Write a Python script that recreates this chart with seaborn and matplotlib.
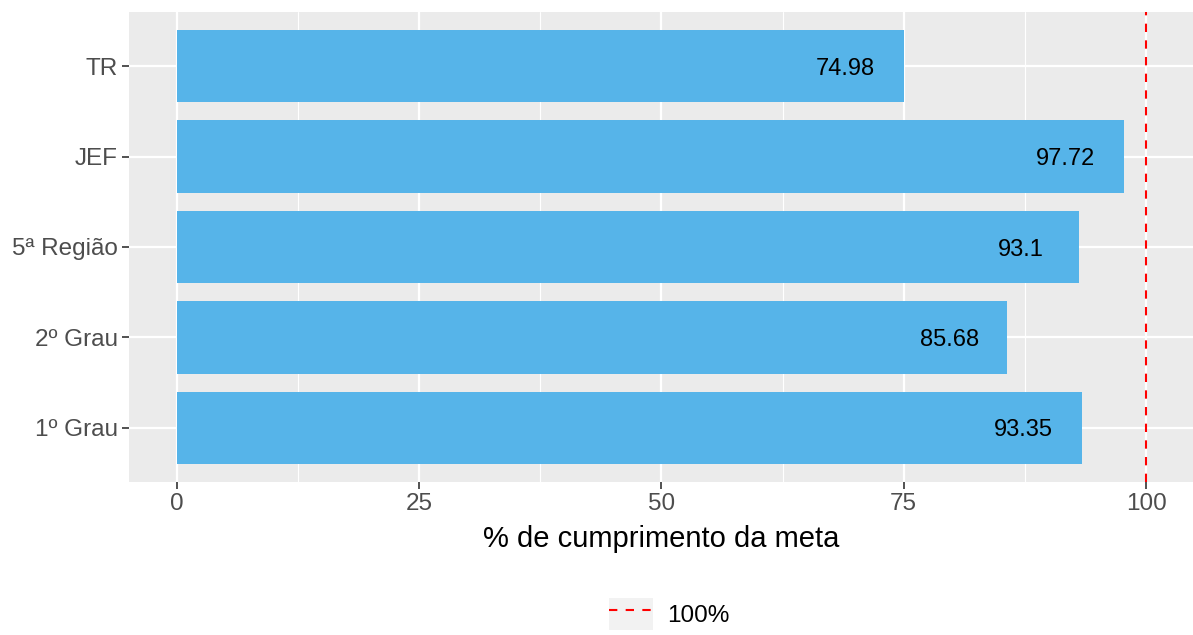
import numpy as np
import pandas as pd
import matplotlib
matplotlib.use("Agg")
import matplotlib.pyplot as plt
from matplotlib.lines import Line2D
from matplotlib.patches import Patch
from matplotlib.legend_handler import HandlerTuple
import seaborn as sns

# data
categorias = ["TR", "JEF", "5ª Região", "2º Grau", "1º Grau"]
valores = [74.98, 97.72, 93.1, 85.68, 93.35]
rotulos = ["74.98", "97.72", "93.1", "85.68", "93.35"]
meta = 100

df = pd.DataFrame({"grupo": categorias, "perc": valores})

sns.set_style("white")
plt.rcParams["font.family"] = ["Liberation Sans", "DejaVu Sans"]

fig = plt.figure(figsize=(11.93, 6.35), dpi=100)
ax = fig.add_axes([129/1193, 1-482/635, (1193-129)/1193, (482-12)/635])
ax.set_facecolor("#EBEBEB")

sns.barplot(data=df, x="perc", y="grupo", order=categorias, color="#56B4E9",
            saturation=1, width=0.8, ax=ax, zorder=3, linewidth=0, edgecolor="none")

for i, (v, r) in enumerate(zip(valores, rotulos)):
    ax.text(v - 6, i, r, ha="center", va="center_baseline", fontsize=17, color="black", zorder=4)

ax.axvline(meta, color="red", ls=(0, (4, 4)), lw=1.5, zorder=4)

ax.set_xlim(-4.95, 104.85)
ax.set_ylim(4.6, -0.6)
ax.set_xticks([0, 25, 50, 75, 100])
ax.set_xticks([12.5, 37.5, 62.5, 87.5], minor=True)
ax.grid(True, which="major", color="white", lw=1.6, zorder=0)
ax.grid(True, which="minor", axis="x", color="white", lw=0.8, zorder=0)
ax.set_axisbelow(True)
for s in ax.spines.values():
    s.set_visible(False)
ax.tick_params(axis="both", which="major", bottom=True, left=True, length=5, width=1.2,
               color="#333333", labelcolor="#4D4D4D", labelsize=17.5, pad=3)
ax.tick_params(axis="both", which="minor", length=0)
ax.set_xlabel("% de cumprimento da meta", fontsize=21, labelpad=7, color="black")
ax.set_ylabel("")

handle = (Patch(facecolor="#F2F2F2", edgecolor="none"),
          Line2D([0], [0], color="red", ls=(0, (4, 4)), lw=1.5))
fig.legend([handle], ["100%"], handler_map={tuple: HandlerTuple(ndivide=1, pad=0)},
           loc="center", bbox_to_anchor=(669/1193, 1-614/635), frameon=False,
           fontsize=17.5, handlelength=1.83, handleheight=1.65, handletextpad=0.55,
           labelcolor="black")

fig.savefig("out.png", dpi=100)
